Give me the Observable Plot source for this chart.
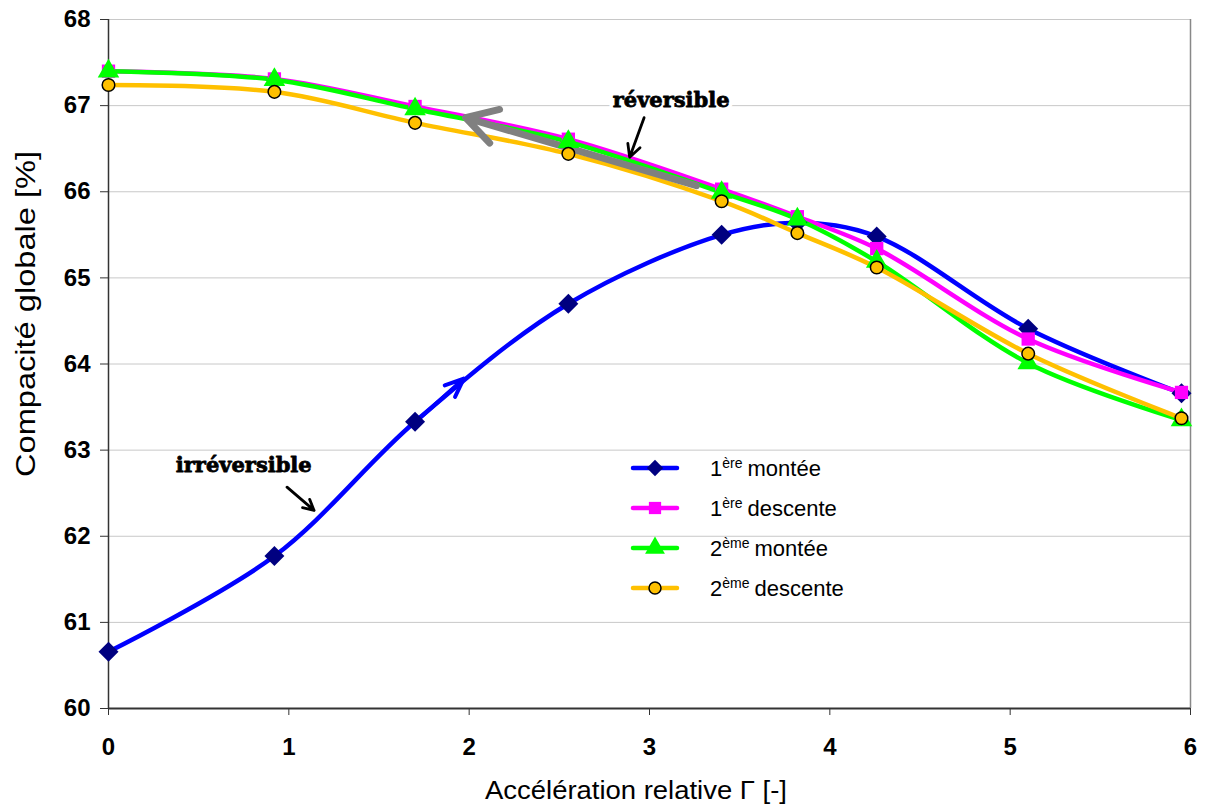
<!DOCTYPE html>
<html>
<head>
<meta charset="utf-8">
<script src="https://cdn.jsdelivr.net/npm/d3@7"></script>
<script src="https://cdn.jsdelivr.net/npm/@observablehq/plot@0.6"></script>
<style>
  html, body { margin: 0; padding: 0; background: #fff; }
  #wrap { position: relative; width: 1207px; height: 809px; }
  #legend { position: absolute; left: 630px; top: 448px; font-family: "Liberation Sans", Arial, sans-serif; font-size: 22px; color: #000; }
  #legend .row { display: flex; align-items: center; height: 40px; }
  #legend svg { margin-right: 30px; }
  #legend sup { font-size: 14px; vertical-align: 8px; margin-right: 5px; }
</style>
</head>
<body>
<div id="wrap"></div>
<script>
// ---- data ----
const accel = [0, 0.92, 1.70, 2.55, 3.40, 3.82, 4.26, 5.10, 5.95];
const montee1 = [60.66, 61.77, 63.33, 64.70, 65.50, 65.64, 65.48, 64.41, 63.66];
const descente1 = [67.40, 67.31, 66.99, 66.61, 66.03, 65.71, 65.34, 64.29, 63.67];
const montee2 = [67.40, 67.30, 66.96, 66.58, 65.99, 65.68, 65.19, 64.01, 63.35];
const descente2 = [67.24, 67.16, 66.80, 66.44, 65.89, 65.52, 65.12, 64.12, 63.37];
const xTicks = [0, 1, 2, 3, 4, 5, 6];
const yTicks = [60, 61, 62, 63, 64, 65, 66, 67, 68];

const series = [
  {key: "m1", vals: montee1, line: "#0000ff", fill: "#000080", stroke: "none", symbol: "diamond2", r: 9},
  {key: "d1", vals: descente1, line: "#ff00ff", fill: "#ff00ff", stroke: "none", symbol: "square", r: 7.5},
  {key: "m2", vals: montee2, line: "#00ff00", fill: "#00ff00", stroke: "none", symbol: "triangle", r: 8},
  {key: "d2", vals: descente2, line: "#ffc000", fill: "#ffc000", stroke: "#000", symbol: "circle", r: 6.3}
];

const marks = [
  Plot.gridY(yTicks, {stroke: "#c8c8c8", strokeOpacity: 1, strokeWidth: 1}),
  Plot.ruleX([6], {stroke: "#888", strokeWidth: 1.5}),
  Plot.axisY(yTicks, {tickSize: 8, tickPadding: 10, fontSize: 24, fontWeight: "bold", tickFormat: d => String(d), label: null, stroke: "#333"}),
  Plot.axisX(xTicks, {tickSize: 7, tickPadding: 22, fontSize: 24, fontWeight: "bold", tickFormat: d => String(d), label: null, stroke: "#333"}),
  Plot.ruleY([60], {stroke: "#333", strokeWidth: 2}),
  Plot.ruleX([0], {stroke: "#333", strokeWidth: 1.5})
];

for (const s of series) {
  const data = accel.map((x, i) => ({x, y: s.vals[i]}));
  marks.push(Plot.line(data, {x: "x", y: "y", stroke: s.line, strokeWidth: 4.5, curve: "catmull-rom"}));
}
// blue arrowhead on the first rise curve
marks.push(Plot.arrow([{x1: 1.72, y1: 63.36, x2: 1.97, y2: 63.83}], {x1: "x1", y1: "y1", x2: "x2", y2: "y2", stroke: "#0000ff", strokeWidth: 4, headLength: 8.5, headAngle: 45}));
// gray reversible arrow
marks.push(Plot.arrow([{x1: 3.26, y1: 66.07, x2: 1.98, y2: 66.86}], {x1: "x1", y1: "y1", x2: "x2", y2: "y2", stroke: "#808080", strokeWidth: 7, headLength: 7.5, headAngle: 60}));

for (const s of series) {
  const data = accel.map((x, i) => ({x, y: s.vals[i]}));
  marks.push(Plot.dot(data, {x: "x", y: "y", symbol: s.symbol, fill: s.fill, stroke: s.stroke, strokeWidth: 1.5, r: s.r}));
}

// annotations
const notes = [
  {x: 3.12, y: 67.06, text: "réversible"},
  {x: 0.75, y: 62.82, text: "irréversible"}
];
marks.push(Plot.text(notes, {x: "x", y: "y", text: "text", fontFamily: "DejaVu Serif", fontWeight: "bold", fontSize: 21, fill: "#fff", stroke: "#fff", strokeWidth: 8}));
marks.push(Plot.text(notes, {x: "x", y: "y", text: "text", fontFamily: "DejaVu Serif", fontWeight: "bold", fontSize: 21, fill: "#000", stroke: "#000", strokeWidth: 0.8}));
const pointers = [
  {x1: 2.97, y1: 66.86, x2: 2.89, y2: 66.40},
  {x1: 0.99, y1: 62.57, x2: 1.14, y2: 62.30}
];
marks.push(Plot.arrow(pointers, {x1: "x1", y1: "y1", x2: "x2", y2: "y2", stroke: "#000", strokeWidth: 2.8, headLength: 8, headAngle: 55}));

const chart = Plot.plot({
  width: 1207,
  height: 809,
  marginLeft: 108,
  marginRight: 17,
  marginTop: 19,
  marginBottom: 101,
  x: {domain: [0, 6]},
  y: {domain: [60, 68]},
  style: {fontFamily: "Liberation Sans, Arial, sans-serif", color: "#000", background: "#fff"},
  marks
});
const wrap = document.getElementById("wrap");
wrap.appendChild(chart);

// axis titles as svg text
const svg = d3.select(chart);
svg.append("text").attr("transform", "translate(28,314) rotate(-90)").attr("text-anchor", "middle")
  .attr("dominant-baseline", "middle")
  .attr("textLength", 326).attr("lengthAdjust", "spacingAndGlyphs")
  .style("font-family", "Liberation Sans, Arial, sans-serif").style("font-size", "27px").text("Compacité globale [%]");
svg.append("text").attr("x", 636).attr("y", 792).attr("text-anchor", "middle")
  .attr("dominant-baseline", "middle")
  .attr("textLength", 302).attr("lengthAdjust", "spacingAndGlyphs")
  .style("font-family", "Liberation Sans, Arial, sans-serif").style("font-size", "25px").text("Accélération relative Γ [-]");

// legend
const legendItems = [
  {n: "1", sup: "ère", label: "montée", s: series[0]},
  {n: "1", sup: "ère", label: "descente", s: series[1]},
  {n: "2", sup: "ème", label: "montée", s: series[2]},
  {n: "2", sup: "ème", label: "descente", s: series[3]}
];
const leg = document.createElement("div");
leg.id = "legend";
const symPath = {
  diamond2: d3.symbol(d3.symbolDiamond2, 170)(),
  square: d3.symbol(d3.symbolSquare, 150)(),
  triangle: d3.symbol(d3.symbolTriangle, 170)(),
  circle: d3.symbol(d3.symbolCircle, 113)()
};
for (const it of legendItems) {
  const row = document.createElement("div");
  row.className = "row";
  row.innerHTML = `<svg width="50" height="30"><line x1="3" x2="47" y1="15" y2="15" stroke="${it.s.line}" stroke-width="4.5" stroke-linecap="round"/>` +
    `<path transform="translate(25,15)" d="${symPath[it.s.symbol]}" fill="${it.s.fill}" stroke="${it.s.stroke}" stroke-width="1.5"/></svg>` +
    `<span>${it.n}<sup>${it.sup}</sup>${it.label}</span>`;
  leg.appendChild(row);
}
wrap.appendChild(leg);
</script>
</body>
</html>
